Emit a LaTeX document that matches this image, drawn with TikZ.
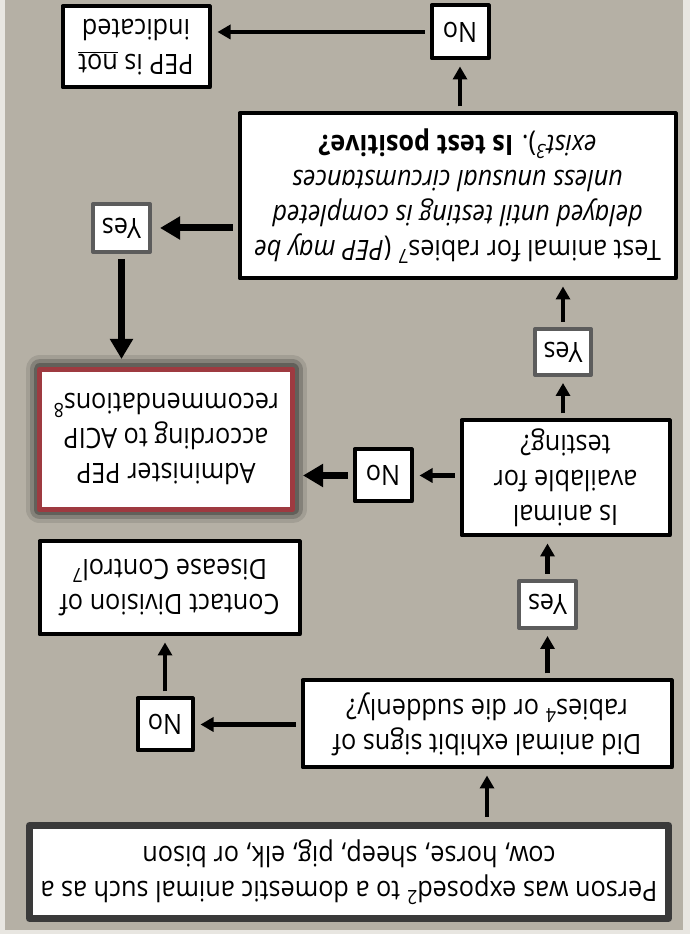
\documentclass[tikz,border=0pt]{standalone}
\usepackage{fontspec}
\setmainfont{Open Sans}[FakeStretch=0.9]
\usepackage{tikz}
\usetikzlibrary{arrows.meta}

\definecolor{paper}{RGB}{232,230,225}
\definecolor{bggrey}{RGB}{181,176,165}
\definecolor{acipred}{RGB}{158,58,64}
\definecolor{yesgrey}{RGB}{92,92,92}
\definecolor{startgrey}{RGB}{58,58,58}

\tikzset{
  box/.style={draw=black, line width=4pt, fill=white, inner sep=0pt, align=center,
    font=\fontsize{28}{35}\selectfont},
  yesbox/.style={box, draw=yesgrey},
  arr/.style={line width=4.5pt, -{Triangle[length=13pt,width=14pt]},
    shorten <=5pt, shorten >=6pt},
  thickarr/.style={line width=7pt, -{Triangle[length=20pt,width=22pt]},
    shorten <=5pt, shorten >=8pt}
}

\begin{document}
\begin{tikzpicture}[x=1pt, y=1pt, line join=round]
\begin{scope}[rotate around={180:(345,467)}, transform shape]
  \fill[paper] (0,0) rectangle (690,934);
  \fill[bggrey] (7,0) rectangle (685,930);

  % boxes, set upright and turned over with the scope
  \node[box, draw=startgrey, line width=7pt, minimum width=639, minimum height=93]
    (exposed) at (341,872) {Person was exposed\textsuperscript{2} to a domestic animal such as a\\
    cow, horse, sheep, pig, elk, or bison};
  \node[box, minimum width=369, minimum height=87] (signs) at (203,724)
    {Did animal exhibit signs of\\ rabies\textsuperscript{4} or die suddenly?};
  \node[box, minimum width=55, minimum height=52] (nosigns) at (525,724.5) {No};
  \node[box, minimum width=260, minimum height=93] (contact) at (520.5,588)
    {Contact Division of\\ Disease Control\textsuperscript{7}};
  \node[yesbox, minimum width=57, minimum height=47] (yessigns) at (142.5,604.5) {Yes};
  \node[box, minimum width=208, minimum height=115] (avail) at (124.5,478)
    {Is animal\\ available for\\ testing?};
  \node[box, minimum width=57, minimum height=52] (noavail) at (307,475.5) {No};
  \node[box, draw=acipred, line width=5pt, minimum width=253, minimum height=140,
    preaction={draw=black, opacity=.10, line width=28pt},
    preaction={draw=black, opacity=.18, line width=20pt},
    preaction={draw=black, opacity=.25, line width=12pt}]
    (admin) at (524,439.5) {Administer PEP\\ according to ACIP\\ recommendations\textsuperscript{8}};
  \node[yesbox, minimum width=56, minimum height=46] (yesavail) at (127,352) {Yes};
  \node[box, minimum width=436, minimum height=165] (test) at (232.5,196)
    {Test animal for rabies\textsuperscript{7} (\textit{PEP may be}\\
    \textit{delayed until testing is completed}\\
    \textit{unless unusual circumstances}\\
    \textit{exist\textsuperscript{3}}). \textbf{Is test positive?}};
  \node[yesbox, minimum width=57, minimum height=48] (yestest) at (568.5,228) {Yes};
  \node[box, minimum width=57, minimum height=53] (notest) at (230,32) {No};
  \node[box, minimum width=147, minimum height=81] (notind) at (554,47)
    {PEP is \underline{not}\\ indicated};

  % connectors
  \draw[arr] (exposed.south -| signs) -- (signs.north);
  \draw[arr] (signs.south -| yessigns) -- (yessigns.north);
  \draw[arr] (yessigns.south) -- (yessigns.south |- avail.north);
  \draw[arr] (signs.east |- nosigns) -- (nosigns.west);
  \draw[arr] (nosigns.south) -- (nosigns.south |- contact.north);
  \draw[arr] (avail.south -| yesavail) -- (yesavail.north);
  \draw[arr] (yesavail.south) -- (yesavail.south |- test.north);
  \draw[arr] (avail.east |- noavail) -- (noavail.west);
  \draw[thickarr] (noavail.east) -- (noavail.east -| admin.west);
  \draw[arr] (test.south -| notest) -- (notest.north);
  \draw[arr] (notest.east) -- (notest.east -| notind.west);
  \draw[thickarr] (test.east |- yestest) -- (yestest.west);
  \draw[thickarr] (yestest.north) -- (yestest.north |- admin.south);
\end{scope}
\end{tikzpicture}
\end{document}
